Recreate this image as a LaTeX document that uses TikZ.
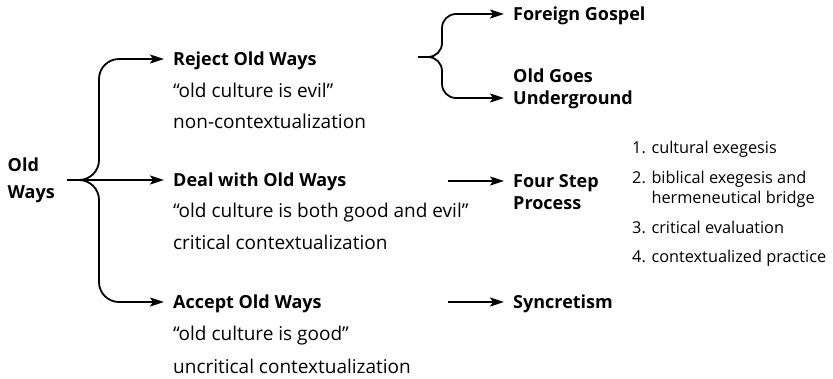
\documentclass[tikz,border=0pt]{standalone}
\usepackage{fontspec}
\setmainfont{Open Sans}
\usetikzlibrary{arrows.meta, positioning, calc}

\begin{document}
\begin{tikzpicture}[
    x=1pt, y=-1pt,
    head/.style={anchor=east, inner xsep=12pt, inner ysep=0pt, align=left, font=\fontsize{18}{27}\selectfont\bfseries},
    opt/.style={anchor=west, inner xsep=9pt, inner ysep=0pt, text height=12.5pt, text depth=0pt, font=\fontsize{18}{22}\selectfont\bfseries},
    note/.style={inner xsep=9pt, inner ysep=0pt, font=\fontsize{19}{22}\selectfont},
    item/.style={anchor=base west, inner sep=0pt, align=left, font=\fontsize{16.3}{20}\selectfont},
    arr/.style={-{Stealth[length=14pt, width=9pt, inset=3pt]}, line width=1.8pt},
]
    \useasboundingbox (0,0) rectangle (833,378);

    % Starting point
    \node[head] (old) at (67,180) {Old\\Ways};

    % Three responses
    \node[opt] (reject) at (164,59) {Reject Old Ways};
    \node[note, below=32pt of reject.base west, anchor=base west] (rejectq) {``old culture is evil''};
    \node[note, below=31pt of rejectq.base west, anchor=base west] (rejectc) {non-contextualization};

    \node[opt] (deal) at (164,180) {Deal with Old Ways};
    \node[note, below=31pt of deal.base west, anchor=base west] (dealq) {``old culture is both good and evil''};
    \node[note, below=32pt of dealq.base west, anchor=base west] (dealc) {critical contextualization};

    \node[opt] (accept) at (164,302) {Accept Old Ways};
    \node[note, below=32pt of accept.base west, anchor=base west] (acceptq) {``old culture is good''};
    \node[note, below=33pt of acceptq.base west, anchor=base west] (acceptc) {uncritical contextualization};

    % Outcomes
    \node[opt] (gospel) at (504,14) {Foreign Gospel};
    \node[opt] (undergr) at (504,98) {Underground};
    \node[opt, above=22pt of undergr.base west, anchor=base west] (oldgoes) {Old Goes};
    \node[opt] (fourstep) at (504,181) {Four Step};
    \node[opt, below=22pt of fourstep.base west, anchor=base west] (process) {Process};
    \node[opt] (syncret) at (504,302) {Syncretism};

    % Four steps
    \node[item] (st1) at (632,153) {1. cultural exegesis};
    \node[item, below=50pt of st1.base west, anchor=base west] (st2) {2. biblical exegesis and\\\phantom{2. }hermeneutical bridge};
    \node[item, below=80pt of st1.base west, anchor=base west] (st3) {3. critical evaluation};
    \node[item, below=109pt of st1.base west, anchor=base west] (st4) {4. contextualized practice};

    % Braces and arrows
    \coordinate (tip) at (old.east |- deal.west);
    \coordinate (spine) at (99,0);
    \coordinate (split) at (418,57);
    \coordinate (rspine) at (442,0);
    \coordinate (col) at (448,0);

    \draw[arr, rounded corners=20pt] (tip) -| (spine |- reject.west) -- (reject.west);
    \draw[arr] (tip) -- (deal.west);
    \draw[arr, rounded corners=20pt] (tip) -| (spine |- accept.west) -- (accept.west);

    \draw[arr, rounded corners=14pt] (split) -| (rspine |- gospel.west) -- (gospel.west);
    \draw[arr, rounded corners=14pt] (split) -| (rspine |- undergr.west) -- (undergr.west);

    \draw[arr] (col |- fourstep.west) -- (fourstep.west);
    \draw[arr] (col |- syncret.west) -- (syncret.west);

\end{tikzpicture}
\end{document}
